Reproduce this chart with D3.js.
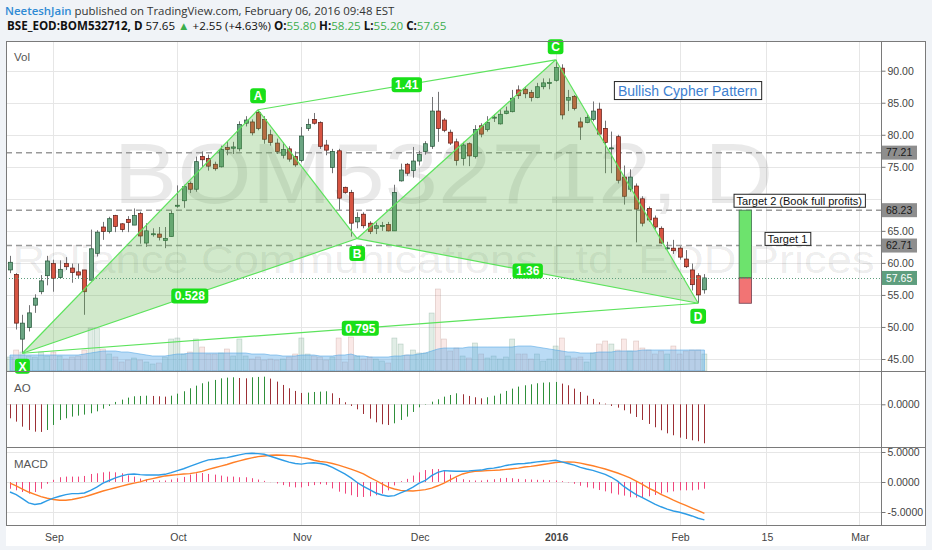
<!DOCTYPE html>
<html>
<head>
<meta charset="utf-8">
<script src="https://cdnjs.cloudflare.com/ajax/libs/d3/7.8.5/d3.min.js"></script>
<style>
  body { margin: 0; background: #f0f3f7; }
  text { font-family: "Liberation Sans", Arial, sans-serif; }
</style>
</head>
<body>
<div id="chart"></div>
<script>
// ---- data (bar index 0 = 21 Aug 2015, last bar = 5 Feb 2016) ----
var opens = [58.9,58.2,48.1,49.9,53.4,55.5,58.0,59.9,57.7,59.9,
  59.2,58.6,58.9,57.3,61.5,65.6,64.9,67.4,66.1,66.8,
  65.9,67.7,63.1,64.5,64.5,63.5,64.1,68.9,69.7,72.4,
  71.5,76.6,76.3,75.4,75.0,78.0,77.9,77.8,81.8,82.0,
  83.5,82.4,80.0,78.7,76.8,77.8,76.6,76.0,81.0,82.4,
  81.9,78.4,74.9,77.5,71.8,71.0,66.4,67.6,66.2,65.4,
  65.8,66.0,65.0,72.8,75.4,74.4,75.9,77.4,78.2,83.7,
  82.3,80.4,78.9,76.3,78.6,76.6,81.4,80.8,82.7,81.7,
  83.3,83.6,87.0,87.1,86.6,85.8,87.5,88.1,88.5,90.4,
  85.4,86.0,82.0,81.9,82.4,84.0,81.0,77.9,79.7,73.4,
  71.5,72.0,70.0,68.5,67.0,65.4,62.3,62.3,62.3,60.6,
  58.9,58.0,55.8];
var highs = [61.1,58.4,51.9,53.4,55.1,58.1,61.1,60.5,60.4,60.9,
  59.9,59.9,58.9,65.2,65.1,66.4,67.2,67.5,66.2,67.3,
  68.5,68.0,66.2,65.4,65.6,65.6,68.1,72.1,72.2,72.7,
  76.6,77.4,76.9,75.8,78.3,78.9,78.9,82.1,82.9,82.4,
  83.9,82.9,80.8,79.4,78.8,78.2,77.4,81.2,82.5,83.4,
  82.1,79.2,77.8,77.8,71.9,71.4,67.9,67.9,66.5,66.3,
  66.4,66.4,72.2,75.5,75.6,78.1,77.5,79.0,85.9,86.7,
  82.6,80.8,79.4,78.9,78.8,81.5,81.8,82.9,83.2,84.0,
  84.4,87.0,87.7,87.5,87.0,88.1,88.8,88.8,91.7,91.0,
  87.0,86.2,82.7,83.2,85.2,85.0,82.2,80.5,80.0,75.2,
  74.6,72.4,70.4,68.8,67.4,65.7,63.3,63.6,62.6,62.0,
  59.9,58.4,58.25];
var lows = [58.4,49.6,45.9,49.3,52.2,55.1,56.5,55.5,57.6,58.9,
  56.9,57.5,51.9,57.3,61.0,63.6,64.6,64.8,64.8,64.8,
  65.9,63.0,62.5,64.1,63.5,62.3,64.1,68.6,68.6,70.9,
  71.1,74.9,74.4,74.4,74.9,76.8,77.0,77.4,81.3,79.9,
  80.7,78.6,78.3,77.0,76.3,75.8,75.0,75.7,80.6,81.6,
  77.8,76.8,74.0,68.3,70.8,64.1,65.4,65.4,64.5,64.5,
  65.0,64.9,65.0,72.7,73.6,73.3,75.2,76.9,77.8,78.9,
  80.4,78.4,75.2,75.2,75.1,76.3,79.6,80.5,82.0,81.6,
  83.2,83.5,85.6,85.7,85.2,85.7,87.1,87.1,88.3,82.4,
  83.7,83.8,79.2,81.8,82.1,79.9,74.0,74.0,72.4,69.1,
  71.1,63.2,65.7,66.4,65.2,63.0,62.1,61.4,60.5,59.2,
  55.7,53.7,55.2];
var closes = [60.1,50.6,50.6,52.2,54.5,57.2,60.3,57.6,59.0,59.4,
  58.5,58.1,55.5,62.2,64.8,64.9,66.9,65.7,65.2,66.3,
  67.4,64.2,65.0,64.55,64.0,63.8,67.7,69.0,71.9,71.5,
  75.8,76.1,75.1,74.7,77.7,77.7,78.1,81.6,82.3,80.3,
  81.0,79.3,78.8,77.4,77.7,76.2,75.3,79.8,81.6,81.8,
  78.2,77.6,77.4,70.1,71.0,66.2,67.1,65.8,64.9,65.8,
  65.85,65.0,71.0,74.5,74.0,75.9,76.9,78.6,83.7,81.0,
  80.7,78.7,76.0,78.4,76.7,80.8,80.1,81.9,82.75,83.2,
  83.7,85.7,86.1,86.4,85.8,87.5,88.1,88.15,90.5,83.1,
  85.8,84.1,81.2,82.7,83.7,80.1,78.8,77.95,72.9,70.4,
  73.4,68.4,66.2,66.7,65.6,63.1,62.35,61.9,60.9,59.4,
  56.6,55.0,57.65];
var volumes = [14,21,19,15,14,19,15,19,15,12,
  14,15,21,43,43,22,17,14,9,11,
  13,11,9,7,8,14,32,33,17,19,
  32,24,17,17,18,22,15,32,15,12,
  14,11,12,11,12,14,17,33,17,15,
  14,11,14,33,9,34,15,12,14,12,
  10,8,33,27,16,21,18,18,58,82,
  32,20,23,15,13,28,17,13,15,12,
  14,32,17,17,12,17,10,12,25,33,
  15,13,14,9,18,27,30,27,21,32,
  20,30,23,21,17,20,17,25,17,20,
  21,21,17];
var volumeMA = [16,16,16,16,16,16,16,16,16,16,16,16,17,
  18,19,20,20,20,19,19,
  18,17,16,15,15,15,16,
  17,17,18,18,18,18,18,18,18,
  18,18,18,17,17,17,16,16,15,15,15,16,
  16,16,15,15,15,16,16,17,
  15,15,14,14,14,14,15,15,16,16,17,18,
  20,22,23,23,23,23,24,24,
  24,24,24,24,24,24,25,25,25,24,23,22,
  21,20,19,19,18,18,18,19,19,19,20,20,
  20,20,21,21,21,21,21,21,21,21,21,21,21];
var aoValues = [-1.59,-1.97,-2.54,-2.92,-3.11,-3.14,-2.92,-2.35,-1.78,-1.59,
  -1.40,-1.29,-1.17,-1.02,-0.80,-0.49,-0.19,0.27,0.53,0.76,
  0.91,0.95,0.98,0.95,0.91,0.87,0.98,1.21,1.48,1.82,
  2.12,2.39,2.58,2.77,2.95,3.03,3.07,2.99,2.95,3.07,
  3.11,3.14,2.92,2.58,2.20,1.82,1.52,1.29,1.33,1.40,
  1.44,1.48,1.25,0.72,0.23,-0.19,-0.57,-1.10,-1.63,-2.05,
  -2.27,-2.35,-2.16,-1.78,-1.40,-0.87,-0.34,-0.05,0.30,0.57,
  0.87,1.06,1.25,1.14,0.95,0.80,0.68,0.80,0.98,1.21,
  1.52,1.78,2.01,2.16,2.27,2.39,2.46,2.50,2.54,2.35,
  2.16,1.78,1.40,0.98,0.61,0.23,0.08,-0.19,-0.38,-0.68,
  -1.06,-1.44,-1.78,-2.23,-2.61,-2.95,-3.30,-3.52,-3.79,-3.94,
  -4.09,-4.20,-4.43];
var macdLine = [-1.67,-2.10,-2.76,-3.47,-3.74,-3.58,-3.09,-2.70,-2.38,-2.10,
  -1.94,-1.94,-1.83,-1.39,-0.85,-0.19,0.25,0.68,1.01,1.28,
  1.34,1.23,1.17,1.17,1.17,1.28,1.56,1.89,2.21,2.60,
  2.98,3.36,3.69,3.80,3.96,4.07,4.29,4.51,4.73,4.78,
  4.73,4.62,4.29,3.96,3.63,3.31,3.09,2.98,3.14,3.20,
  3.09,2.87,2.43,1.89,1.34,0.68,-0.08,-0.74,-1.28,-1.83,
  -2.16,-2.38,-2.27,-1.83,-1.39,-0.85,-0.19,0.25,1.07,1.61,
  1.89,1.83,1.78,1.78,1.83,1.94,1.99,2.21,2.32,2.49,
  2.76,2.92,3.03,3.09,3.20,3.36,3.47,3.52,3.63,3.36,
  3.09,2.81,2.43,2.16,1.94,1.61,1.28,0.79,0.14,-0.74,
  -1.45,-2.10,-2.60,-3.14,-3.69,-4.13,-4.51,-4.84,-5.05,-5.33,
  -5.66,-6.04,-6.31];
var signalLine = [-0.19,-0.63,-1.17,-1.67,-2.05,-2.43,-2.70,-2.92,-3.03,-3.03,
  -2.92,-2.70,-2.49,-2.16,-1.83,-1.50,-1.23,-0.96,-0.68,-0.41,
  -0.19,0.03,0.36,0.57,0.79,1.01,1.12,1.23,1.34,1.39,
  1.56,1.78,2.10,2.38,2.65,2.92,3.25,3.52,3.80,4.02,
  4.23,4.34,4.45,4.51,4.45,4.40,4.29,4.07,3.91,3.63,
  3.42,3.31,3.09,2.81,2.49,2.16,1.78,1.34,0.79,0.25,
  -0.30,-0.85,-1.17,-1.39,-1.45,-1.50,-1.39,-1.28,-1.01,-0.63,
  -0.19,0.36,0.90,1.34,1.61,1.78,1.83,1.89,1.94,1.99,
  2.10,2.21,2.32,2.49,2.60,2.76,2.92,3.09,3.25,3.31,
  3.36,3.31,3.14,2.92,2.70,2.43,2.16,1.83,1.50,1.12,
  0.68,0.14,-0.41,-1.01,-1.50,-2.05,-2.54,-3.03,-3.47,-3.91,
  -4.34,-4.78,-5.22];
var macdHist = [-1.12,-1.39,-1.67,-1.94,-1.67,-1.12,-0.30,0.36,0.79,0.90,
  0.90,0.90,1.01,1.34,1.45,1.61,1.72,1.61,1.45,1.12,
  0.90,0.57,0.41,0.30,0.25,0.25,0.41,0.63,0.85,1.23,
  1.45,1.50,1.34,1.23,1.07,0.90,0.90,0.79,0.79,0.63,
  0.41,0.19,-0.03,-0.25,-0.52,-0.79,-0.90,-0.90,-0.68,-0.52,
  -0.36,-0.46,-1.07,-1.61,-1.94,-2.21,-2.49,-2.49,-2.38,-2.21,
  -1.94,-1.39,-0.57,0.14,0.52,1.07,1.61,1.99,2.16,2.16,
  1.83,1.23,0.74,0.46,0.30,0.25,0.25,0.36,0.46,0.63,
  0.68,0.63,0.52,0.46,0.41,0.36,0.36,0.30,0.25,0.14,
  -0.08,-0.30,-0.63,-0.90,-1.07,-1.34,-1.56,-1.89,-2.10,-2.27,
  -2.54,-2.60,-2.60,-2.38,-2.16,-1.94,-1.72,-1.56,-1.39,-1.39,
  -1.39,-1.28,-1.12];

var monthTickIdx = [7, 27, 47, 66, 88, 108, 122, 137];
var monthTickText = ["Sep", "Oct", "Nov", "Dec", "2016", "Feb", "15", "Mar"];
var priceTicks = [45, 50, 55, 60, 65, 70, 75, 80, 85, 90];
var priceLabels = [45, 50, 55, 60, 65, 75, 80, 85, 90];
var levelPrices = [77.21, 68.23, 62.71];
var lastPrice = 57.65;

// harmonic pattern points X A B C D
var patternNames = ["X", "A", "B", "C", "D"];
var patternIdx = [2, 40, 56, 88, 111];
var patternPrice = [45.9, 83.9, 63.8, 91.7, 53.7];
var ratioPairs = [[1, 3], [0, 2], [2, 4], [0, 4]];
var ratioText = ["1.41", "0.528", "1.36", "0.795"];

// notes: text, left bar index, price at centre
var noteText = ["Bullish Cypher Pattern", "Target 2 (Book full profits)", "Target 1"];
var noteIdx = [97.4, 116.7, 121.7];
var notePrice = [86.9, 69.7, 63.75];

// long position tool
var posIdx = [117.6, 119.6];
var posEntry = 57.65, posTarget = 68.23, posStop = 53.7;

// ---- layout ----
var W = 932, H = 550;
var left = 6, right = 926, axisX = 881;
var mainTop = 41, mainBottom = 371, aoBottom = 447, macdBottom = 525;

var svg = d3.select("#chart").append("svg")
  .attr("width", W).attr("height", H);

svg.append("rect").attr("width", W).attr("height", H).attr("fill", "#f0f3f7");
svg.append("rect")
  .attr("x", left).attr("y", mainTop)
  .attr("width", right - left).attr("height", 546 - mainTop)
  .attr("fill", "#fff");

var x = d3.scaleLinear().domain([0, 112]).range([10, 704.4]);
var yP = d3.scaleLinear().domain([45, 90]).range([359, 70.7]);
var yV = d3.scaleLinear().domain([0, 82]).range([mainBottom, mainBottom - 82]);
var yA = d3.scaleLinear().domain([0, 3]).range([404.3, 377.9]);
var yM = d3.scaleLinear().domain([-5, 5]).range([512, 452]);

var defs = svg.append("defs");
function clip(id, y0, y1) {
  defs.append("clipPath").attr("id", id).append("rect")
    .attr("x", left).attr("y", y0).attr("width", axisX - left).attr("height", y1 - y0);
}
clip("cMain", mainTop, mainBottom);
clip("cAO", mainBottom, aoBottom);
clip("cMACD", aoBottom, macdBottom);

var gGrid = svg.append("g");
var gMain = svg.append("g").attr("clip-path", "url(#cMain)");
var gAO = svg.append("g").attr("clip-path", "url(#cAO)");
var gMACD = svg.append("g").attr("clip-path", "url(#cMACD)");
var crisp = function (v) { return Math.round(v) + 0.5; };

// grid
gGrid.selectAll(".vg").data(monthTickIdx).join("line")
  .attr("x1", function (d) { return crisp(x(d)); })
  .attr("x2", function (d) { return crisp(x(d)); })
  .attr("y1", mainTop).attr("y2", macdBottom)
  .attr("stroke", "#e6e6e6");
gGrid.selectAll(".hg").data(priceTicks).join("line")
  .attr("x1", left).attr("x2", axisX)
  .attr("y1", function (d) { return crisp(yP(d)); })
  .attr("y2", function (d) { return crisp(yP(d)); })
  .attr("stroke", "#e6e6e6");
gGrid.selectAll(".mg").data([-5, 0, 5]).join("line")
  .attr("x1", left).attr("x2", axisX)
  .attr("y1", function (d) { return crisp(yM(d)); })
  .attr("y2", function (d) { return crisp(yM(d)); })
  .attr("stroke", "#e6e6e6");
gGrid.append("line")
  .attr("x1", left).attr("x2", axisX)
  .attr("y1", crisp(yA(0))).attr("y2", crisp(yA(0)))
  .attr("stroke", "#e6e6e6");

// watermark
var paneMid = (left + axisX) / 2;
gMain.append("text")
  .attr("x", paneMid).attr("y", 203).attr("text-anchor", "middle")
  .attr("textLength", 660).attr("lengthAdjust", "spacingAndGlyphs")
  .style("font-size", "86px").attr("fill", "rgba(0,0,0,0.085)")
  .text("BOM532712, D");
gMain.append("text")
  .attr("x", paneMid).attr("y", 273).attr("text-anchor", "middle")
  .attr("textLength", 862).attr("lengthAdjust", "spacingAndGlyphs")
  .style("font-size", "38px").attr("fill", "rgba(0,0,0,0.085)")
  .text("Reliance Communications Ltd. EOD Prices");

// volume
var bars = d3.range(opens.length);
function isUp(i) { return closes[i] >= opens[i]; }
gMain.selectAll(".vol").data(bars).join("rect")
  .attr("x", function (i) { return x(i) - 2.5; })
  .attr("width", 5)
  .attr("y", function (i) { return yV(volumes[i]); })
  .attr("height", function (i) { return yV(0) - yV(volumes[i]); })
  .attr("fill", function (i) { return isUp(i) ? "rgba(107,165,131,0.2)" : "rgba(215,84,66,0.13)"; })
  .attr("stroke", function (i) { return isUp(i) ? "rgba(60,120,90,0.3)" : "rgba(150,90,80,0.3)"; })
  .attr("stroke-width", 0.6);
var volArea = d3.area()
  .x(function (i) { return x(i); })
  .y0(yV(0))
  .y1(function (i) { return yV(volumeMA[i]); });
gMain.append("path").datum(bars)
  .attr("d", volArea)
  .attr("fill", "rgba(90,170,230,0.42)")
  .attr("stroke", "rgba(90,170,230,0.6)");

// horizontal levels
gMain.selectAll(".lvl").data(levelPrices).join("line")
  .attr("x1", left).attr("x2", axisX)
  .attr("y1", function (d) { return yP(d); })
  .attr("y2", function (d) { return yP(d); })
  .attr("stroke", "#9a9a9a").attr("stroke-width", 1.5)
  .attr("stroke-dasharray", "6,4");

// candles
gMain.selectAll(".wick").data(bars).join("line")
  .attr("x1", function (i) { return crisp(x(i)); })
  .attr("x2", function (i) { return crisp(x(i)); })
  .attr("y1", function (i) { return yP(highs[i]); })
  .attr("y2", function (i) { return yP(lows[i]); })
  .attr("stroke", "#737375");
gMain.selectAll(".body").data(bars).join("rect")
  .attr("x", function (i) { return Math.round(x(i)) - 1.5; })
  .attr("width", 4)
  .attr("y", function (i) { return yP(Math.max(opens[i], closes[i])); })
  .attr("height", function (i) { return Math.max(1, Math.abs(yP(opens[i]) - yP(closes[i]))); })
  .attr("fill", function (i) { return isUp(i) ? "#6ba583" : "#d75442"; })
  .attr("stroke", function (i) { return isUp(i) ? "#225437" : "#5b1a13"; })
  .attr("stroke-width", 0.7);

// pattern
var pts = patternIdx.map(function (d, k) { return [x(d), yP(patternPrice[k])]; });
var lineGen = d3.line();
[[0, 1, 2], [2, 3, 4]].forEach(function (tri) {
  gMain.append("path")
    .attr("d", lineGen(tri.map(function (k) { return pts[k]; })) + "Z")
    .attr("fill", "rgba(90,175,70,0.28)");
});
var segs = [[0, 1], [1, 2], [2, 3], [3, 4]].concat(ratioPairs);
gMain.selectAll(".seg").data(segs).join("line")
  .attr("x1", function (s) { return pts[s[0]][0]; })
  .attr("y1", function (s) { return pts[s[0]][1]; })
  .attr("x2", function (s) { return pts[s[1]][0]; })
  .attr("y2", function (s) { return pts[s[1]][1]; })
  .attr("stroke", "#5de35d").attr("stroke-width", 1.2);

var gTags = svg.append("g");
function tag(txt, cx, cy) {
  var g = gTags.append("g");
  var t = g.append("text").attr("x", cx).attr("y", cy).attr("dy", "0.36em")
    .attr("text-anchor", "middle").attr("fill", "#fff")
    .style("font-size", "12px").style("font-weight", "bold").text(txt);
  var w = Math.max(14, t.node().getComputedTextLength() + 7);
  g.insert("rect", "text")
    .attr("x", cx - w / 2).attr("y", cy - 7.5).attr("width", w).attr("height", 15)
    .attr("rx", 3).attr("fill", "#19e019");
}
var tagDy = [13, -14, 15, -13, 13];
pts.forEach(function (p, k) { tag(patternNames[k], p[0], p[1] + tagDy[k]); });
ratioPairs.forEach(function (pr, k) {
  tag(ratioText[k], (pts[pr[0]][0] + pts[pr[1]][0]) / 2, (pts[pr[0]][1] + pts[pr[1]][1]) / 2);
});

// long position
var gPos = svg.append("g");
gPos.append("rect")
  .attr("x", x(posIdx[0])).attr("width", x(posIdx[1]) - x(posIdx[0]))
  .attr("y", yP(posTarget)).attr("height", yP(posEntry) - yP(posTarget))
  .attr("fill", "#6de36d").attr("stroke", "#3f6f4f").attr("stroke-width", 0.8);
gPos.append("rect")
  .attr("x", x(posIdx[0])).attr("width", x(posIdx[1]) - x(posIdx[0]))
  .attr("y", yP(posEntry)).attr("height", yP(posStop) - yP(posEntry))
  .attr("fill", "#f27474").attr("stroke", "#6f3f4f").attr("stroke-width", 0.8);

// notes
noteText.forEach(function (txt, k) {
  var first = k === 0;
  var g = svg.append("g");
  var t = g.append("text")
    .attr("x", x(noteIdx[k]) + (first ? 4 : 3)).attr("y", yP(notePrice[k])).attr("dy", "0.36em")
    .attr("fill", first ? "#3d7fd0" : "#111")
    .style("font-size", first ? "14px" : "11px")
    .text(txt);
  var w = t.node().getComputedTextLength() + (first ? 8 : 6);
  var h = first ? 18 : 13;
  g.insert("rect", "text")
    .attr("x", x(noteIdx[k]) + 0.5).attr("y", yP(notePrice[k]) - h / 2)
    .attr("width", w).attr("height", h)
    .attr("fill", "#fff").attr("stroke", "#222").attr("stroke-width", 1);
});

// last price line
svg.append("line")
  .attr("x1", left).attr("x2", axisX)
  .attr("y1", crisp(yP(lastPrice))).attr("y2", crisp(yP(lastPrice)))
  .attr("stroke", "#5e9e7e").attr("stroke-dasharray", "1,2");

// AO
gAO.selectAll(".ao").data(bars).join("line")
  .attr("x1", function (i) { return crisp(x(i)); })
  .attr("x2", function (i) { return crisp(x(i)); })
  .attr("y1", yA(0))
  .attr("y2", function (i) { return yA(aoValues[i]); })
  .attr("stroke", function (i) { return i > 0 && aoValues[i] > aoValues[i - 1] ? "#2f8f3a" : "#9c2f35"; })
  .attr("stroke-width", 1);

// MACD
gMACD.selectAll(".hist").data(bars).join("line")
  .attr("x1", function (i) { return crisp(x(i)); })
  .attr("x2", function (i) { return crisp(x(i)); })
  .attr("y1", yM(0))
  .attr("y2", function (i) { return yM(macdHist[i]); })
  .attr("stroke", "#f0467c").attr("stroke-width", 1);
var mLine = function (arr) {
  return d3.line().x(function (i) { return x(i); }).y(function (i) { return yM(arr[i]); })(bars);
};
gMACD.append("path").attr("d", mLine(signalLine))
  .attr("fill", "none").attr("stroke", "#ff7f27").attr("stroke-width", 1.4);
gMACD.append("path").attr("d", mLine(macdLine))
  .attr("fill", "none").attr("stroke", "#2e9ce6").attr("stroke-width", 1.4);

// pane titles
[["Vol", 61], ["AO", 392], ["MACD", 468]].forEach(function (p) {
  svg.append("text").attr("x", 14).attr("y", p[1])
    .attr("fill", "#555").style("font-size", "11.5px").text(p[0]);
});

// frame
svg.append("rect").attr("x", left + 0.5).attr("y", mainTop + 0.5)
  .attr("width", right - left - 1).attr("height", macdBottom - mainTop)
  .attr("fill", "none").attr("stroke", "#7a7a7a");
[mainBottom, aoBottom].forEach(function (yy) {
  svg.append("line").attr("x1", left).attr("x2", right)
    .attr("y1", yy + 0.5).attr("y2", yy + 0.5).attr("stroke", "#7a7a7a");
});
svg.append("line").attr("x1", axisX + 0.5).attr("x2", axisX + 0.5)
  .attr("y1", mainTop).attr("y2", macdBottom).attr("stroke", "#7a7a7a");

// right axes
function styleAxis(g) {
  g.select(".domain").remove();
  g.selectAll(".tick line").attr("stroke", "#777");
  g.selectAll(".tick text").attr("fill", "#444").style("font-size", "10.5px")
    .style("font-family", "\"Liberation Sans\", Arial, sans-serif");
}
svg.append("g").attr("transform", "translate(" + (axisX + 0.5) + ",0)")
  .call(d3.axisRight(yP).tickValues(priceLabels).tickSize(4).tickPadding(2)
    .tickFormat(function (d) { return d.toFixed(2); }))
  .call(styleAxis);
svg.append("g").attr("transform", "translate(" + (axisX + 0.5) + ",0)")
  .call(d3.axisRight(yA).tickValues([0]).tickSize(4).tickPadding(2)
    .tickFormat(function (d) { return d.toFixed(4); }))
  .call(styleAxis);
svg.append("g").attr("transform", "translate(" + (axisX + 0.5) + ",0)")
  .call(d3.axisRight(yM).tickValues([5, 0, -5]).tickSize(4).tickPadding(2)
    .tickFormat(function (d) { return d.toFixed(4); }))
  .call(styleAxis);

// price label boxes
function priceBox(v, bg, fg) {
  var cy = yP(v);
  svg.append("rect").attr("x", axisX + 1).attr("y", cy - 7)
    .attr("width", 35).attr("height", 14).attr("fill", bg);
  svg.append("text").attr("x", axisX + 5).attr("y", cy).attr("dy", "0.36em")
    .attr("fill", fg).style("font-size", "10.5px").text(v.toFixed(2));
}
levelPrices.forEach(function (v) { priceBox(v, "#8e8e8e", "#1a1a1a"); });
priceBox(lastPrice, "#5e9e7e", "#fff");

// time axis
svg.selectAll(".xl").data(monthTickIdx).join("text")
  .attr("x", function (d) { return x(d) + 1; })
  .attr("y", 541).attr("text-anchor", "middle")
  .attr("fill", "#444").style("font-size", "10.5px")
  .style("font-weight", function (d, k) { return monthTickText[k] === "2016" ? "bold" : "normal"; })
  .text(function (d, k) { return monthTickText[k]; });

// header
var h1 = svg.append("text").attr("x", 5).attr("y", 15)
  .style("font-family", "\"Open Sans\", sans-serif").style("font-size", "12px");
h1.append("tspan").attr("fill", "#2f8ad4").style("font-weight", "600").text("NeeteshJain");
h1.append("tspan").attr("fill", "#333").text(" published on TradingView.com, February 06, 2016 09:48 EST");
var h2 = svg.append("text").attr("x", 7).attr("y", 30)
  .style("font-family", "\"Open Sans\", sans-serif").style("font-size", "12px").attr("fill", "#111");
h2.append("tspan").style("font-weight", "bold").text("BSE_EOD:BOM532712, D");
h2.append("tspan").text(" 57.65 ");
h2.append("tspan").attr("fill", "#3cae4c").text("\u25B2");
h2.append("tspan").text(" +2.55 (+4.63%) ");
var ohlc = [["O:", "55.80"], ["H:", "58.25"], ["L:", "55.20"], ["C:", "57.65"]];
ohlc.forEach(function (p) {
  h2.append("tspan").style("font-weight", "bold").text(" " + p[0]);
  h2.append("tspan").attr("fill", "#3cae4c").text(p[1]);
});
[[h1, 390], [h2, 440]].forEach(function (p) {
  var len = p[0].node().getComputedTextLength();
  p[0].style("font-size", (12 * p[1] / len) + "px");
});
</script>
</body>
</html>
